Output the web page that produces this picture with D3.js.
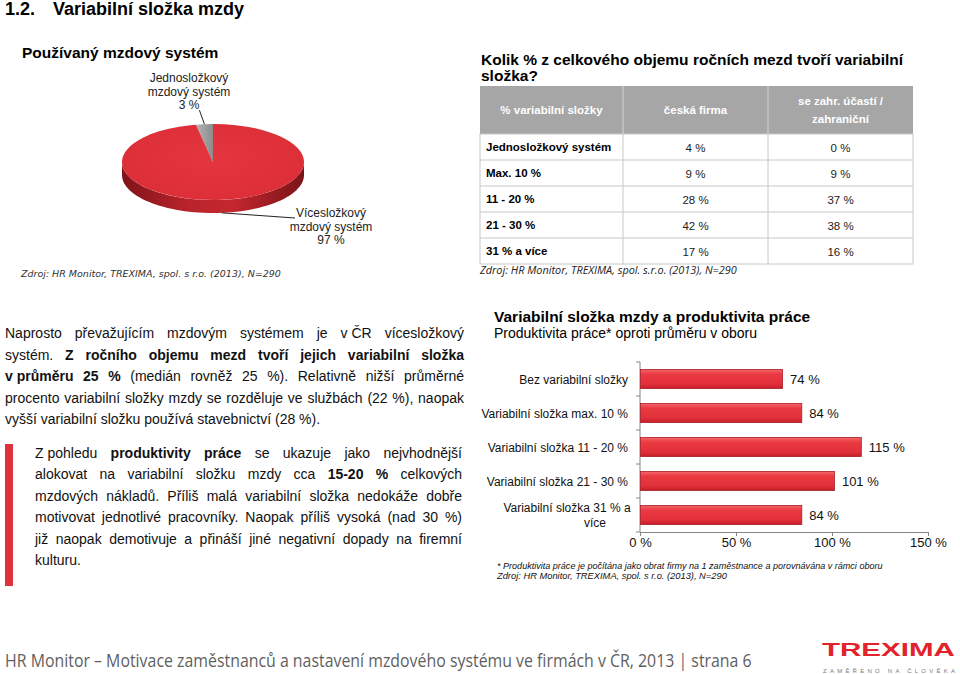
<!DOCTYPE html>
<html><head><meta charset="utf-8">
<script src="https://cdn.jsdelivr.net/npm/d3@7"></script>
<style>
body{margin:0;background:#fff}
svg{display:block}
</style>
</head><body>
<svg id="c" width="960" height="674" font-family="Liberation Sans, Arial, sans-serif"></svg>
<script>
// ---------------- DATA ----------------
const pieLabels = [["Jednosložkový","mzdový systém"],["Vícesložkový","mzdový systém"]];
const pieValues = [3, 97];

const tableHeader = [["% variabilní složky"],["česká firma"],["se zahr. účastí /","zahraniční"]];
const tableRows = ["Jednosložkový systém","Max. 10 %","11 - 20 %","21 - 30 %","31 % a více"];
const czechFirm = [4, 9, 28, 42, 17];
const foreignFirm = [0, 9, 37, 38, 16];

const barCategories = ["Bez variabilní složky","Variabilní složka max. 10 %","Variabilní složka 11 - 20 %","Variabilní složka 21 - 30 %","Variabilní složka 31 % a více"];
const barValues = [74, 84, 115, 101, 84];
const xTicks = [0, 50, 100, 150];

const para1 = [
  "Naprosto převažujícím mzdovým systémem je v\u00a0ČR vícesložkový",
  "systém. **Z ročního objemu mezd tvoří jejich variabilní složka**",
  "**v\u00a0průměru 25 %** (medián rovněž 25 %). Relativně nižší průměrné",
  "procento variabilní složky mzdy se rozděluje ve službách (22 %), naopak",
  "vyšší variabilní složku používá stavebnictví (28 %)."
];
const para2 = [
  "Z\u00a0pohledu **produktivity práce** se ukazuje jako nejvhodnější",
  "alokovat na variabilní složku mzdy cca **15-20 %** celkových",
  "mzdových nákladů. Příliš malá variabilní složka nedokáže dobře",
  "motivovat jednotlivé pracovníky. Naopak příliš vysoká (nad 30 %)",
  "již naopak demotivuje a přináší jiné negativní dopady na firemní",
  "kulturu."
];

// ---------------- SETUP ----------------
const svg = d3.select("#c");
const defs = svg.append("defs");

function lg(id, stops, vertical=true){
  const g = defs.append("linearGradient").attr("id", id)
    .attr("x1",0).attr("y1",0).attr("x2",vertical?0:1).attr("y2",vertical?1:0);
  stops.forEach(s=>g.append("stop").attr("offset",s[0]).attr("stop-color",s[1]));
}
lg("barGrad", [["0%","#f4676b"],["25%","#ea3a41"],["75%","#e2303a"],["100%","#c41f28"]]);
lg("sideGrad", [["0%","#7e1419"],["35%","#b8232b"],["60%","#c6272f"],["100%","#7a1418"]], false);
lg("greyGrad", [["0%","#b4b4b4"],["100%","#8c8c8c"]], false);
const rg = defs.append("radialGradient").attr("id","topGrad").attr("cx","50%").attr("cy","45%").attr("r","60%");
rg.append("stop").attr("offset","0%").attr("stop-color","#e5363f");
rg.append("stop").attr("offset","100%").attr("stop-color","#dc2e37");

// text squeezed to an exact width via a horizontal scale transform
function fitText(parent, x, y, width, str, attrs){
  const t = parent.append("text").text(str);
  Object.entries(attrs).forEach(([k,v])=>t.attr(k,v));
  const L = t.node().getComputedTextLength();
  t.attr("transform", `translate(${x},${y}) scale(${width/L},1)`);
  return t;
}

// Page title
svg.append("text").attr("x",5).attr("y",15).attr("font-size",18).attr("font-weight","bold").text("1.2.");
svg.append("text").attr("x",53).attr("y",15).attr("font-size",18).attr("font-weight","bold").text("Variabilní složka mzdy");

// ---------------- PIE ----------------
svg.append("text").attr("x",22).attr("y",58).attr("font-size",15.5).attr("font-weight","bold").text("Používaný mzdový systém");

const cx = 213, cy = 162, rx = 91, ry = 38, depth = 13;
const pie = d3.pie().sort(null).startAngle(-2*Math.PI*pieValues[0]/100).endAngle(2*Math.PI - 2*Math.PI*pieValues[0]/100);
const arcs = pie(pieValues);
const pt = (a, dy=0) => [cx + rx*Math.sin(a), cy - ry*Math.cos(a) + dy];

const red = arcs[1];
const a0 = Math.max(red.startAngle, Math.PI/2), a1 = Math.min(red.endAngle, 3*Math.PI/2);
const topPts = d3.range(0, 61).map(i => pt(a0 + (a1-a0)*i/60));
const botPts = topPts.slice().reverse().map(p => [p[0], p[1] + depth]);
svg.append("path").attr("d", d3.line()(topPts.concat(botPts)) + "Z").attr("fill","url(#sideGrad)");

const arc = d3.arc().innerRadius(0).outerRadius(rx);
const pg = svg.append("g").attr("transform", `translate(${cx},${cy}) scale(1,${ry/rx})`);
pg.selectAll("path").data(arcs).join("path")
  .attr("d", arc)
  .attr("fill", (d,i) => i===0 ? "url(#greyGrad)" : "url(#topGrad)");

const gMid = (arcs[0].startAngle + arcs[0].endAngle)/2;
const gp = pt(gMid);
svg.append("line").attr("x1",gp[0]-5).attr("y1",gp[1]-14).attr("x2",gp[0]).attr("y2",gp[1]).attr("stroke","#222").attr("stroke-width",1);
const rMid = (red.startAngle + red.endAngle)/2;
const rp = pt(rMid, depth);
svg.append("line").attr("x1",rp[0]).attr("y1",rp[1]).attr("x2",295).attr("y2",218).attr("stroke","#222").attr("stroke-width",1);

function multiLabel(x, y0, lines){
  const t = svg.append("text").attr("text-anchor","middle").attr("font-size",12).attr("fill","#222");
  lines.forEach((l,i)=>t.append("tspan").attr("x",x).attr("y",y0+i*13.5).text(l));
}
multiLabel(189, 82, pieLabels[0].concat([pieValues[0]+" %"]));
multiLabel(331, 217, pieLabels[1].concat([pieValues[1]+" %"]));

fitText(svg, 21, 277, 260, "Zdroj: HR Monitor, TREXIMA, spol. s r.o.  (2013), N=290",
  {"font-size":9, "font-style":"italic", "font-family":"DejaVu Sans", "fill":"#333"});

// ---------------- TABLE ----------------
const tq = svg.append("text").attr("font-size",15.5).attr("font-weight","bold");
tq.append("tspan").attr("x",481).attr("y",65).text("Kolik % z celkového objemu ročních mezd tvoří variabilní");
tq.append("tspan").attr("x",481).attr("y",81).text("složka?");

const colX = [480, 623, 768, 913];
const rowY = d3.scaleBand().domain(tableRows).range([134, 264]);
const headTop = 86, headBot = 134;

svg.append("rect").attr("x",colX[0]).attr("y",headTop).attr("width",colX[3]-colX[0]).attr("height",headBot-headTop).attr("fill","#a6a6a6");
svg.append("rect").attr("x",colX[0]).attr("y",headBot).attr("width",colX[3]-colX[0]).attr("height",rowY.range()[1]-headBot)
  .attr("fill","#fff").attr("stroke","#c8c8c8");
[1,2].forEach(i=>svg.append("line").attr("x1",colX[i]).attr("x2",colX[i]).attr("y1",headTop).attr("y2",headBot).attr("stroke","#d4d4d4"));
[1,2].forEach(i=>svg.append("line").attr("x1",colX[i]).attr("x2",colX[i]).attr("y1",headBot).attr("y2",rowY.range()[1]).attr("stroke","#c8c8c8"));
tableRows.slice(1).forEach(r=>svg.append("line").attr("x1",colX[0]).attr("x2",colX[3]).attr("y1",rowY(r)).attr("y2",rowY(r)).attr("stroke","#c8c8c8"));

tableHeader.forEach((lines,i)=>{
  const mx = (colX[i]+colX[i+1])/2;
  const mid = (headTop+headBot)/2;
  const t = svg.append("text").attr("text-anchor","middle").attr("font-size",11.5).attr("font-weight","bold").attr("fill","#fff");
  lines.forEach((l,j)=>t.append("tspan").attr("x",mx).attr("y", mid + 4 + (j - (lines.length-1)/2)*18).text(l));
});
const tbody = svg.append("g");
tableRows.forEach((r,i)=>{
  const yc = rowY(r) + rowY.bandwidth()/2;
  tbody.append("text").attr("x",486).attr("y",yc+4).attr("font-size",11.5).attr("font-weight","bold").text(r);
  tbody.append("text").attr("x",(colX[1]+colX[2])/2).attr("y",yc+5).attr("text-anchor","middle").attr("font-size",11.5).attr("fill","#222").text(czechFirm[i]+" %");
  tbody.append("text").attr("x",(colX[2]+colX[3])/2).attr("y",yc+5).attr("text-anchor","middle").attr("font-size",11.5).attr("fill","#222").text(foreignFirm[i]+" %");
});
fitText(svg, 480, 274, 257, "Zdroj: HR Monitor, TREXIMA, spol. s.r.o. (2013), N=290",
  {"font-size":11, "font-style":"italic", "font-family":"Open Sans", "fill":"#222"});

// ---------------- PARAGRAPHS ----------------
function parseLine(s){
  const words = [];
  s.split("**").forEach((seg,k)=>{
    seg.split(" ").filter(w=>w.length).forEach(w=>words.push({t:w, b:k%2===1}));
  });
  return words;
}
function paragraph(lines, x0, x1, y0, lh, fs){
  const g = svg.append("g");
  const spaceW = g.append("text").attr("font-size",fs).text("a a").node().getComputedTextLength()
     - 2*g.append("text").attr("font-size",fs).text("a").node().getComputedTextLength();
  g.selectAll("text").remove();
  lines.forEach((line,li)=>{
    const words = parseLine(line);
    const nodes = words.map(w => g.append("text").attr("font-size",fs).attr("font-weight", w.b?"bold":"normal").attr("fill","#111").text(w.t));
    const widths = nodes.map(n => n.node().getComputedTextLength());
    const total = d3.sum(widths);
    const last = li === lines.length-1;
    const gap = last ? spaceW : (x1 - x0 - total)/(words.length-1);
    let x = x0;
    nodes.forEach((n,i)=>{ n.attr("x",x).attr("y",y0+li*lh); x += widths[i] + gap; });
  });
}
paragraph(para1, 5, 464, 338, 21.5, 14);
svg.append("rect").attr("x",5).attr("y",444).attr("width",8).attr("height",142).attr("fill","#e0323b");
paragraph(para2, 35, 462, 458, 21.4, 14);

// ---------------- BAR CHART ----------------
svg.append("text").attr("x",494).attr("y",322).attr("font-size",15.5).attr("font-weight","bold").text("Variabilní složka mzdy a produktivita práce");
svg.append("text").attr("x",494).attr("y",338).attr("font-size",14).text("Produktivita práce* oproti průměru v oboru");

const x = d3.scaleLinear().domain([0,150]).range([640,928]);
const y = d3.scaleBand().domain(barCategories).range([362,532]).paddingInner(0.44).paddingOuter(0.22);
const axisCol = "#868686";

svg.append("line").attr("x1",x(0)).attr("x2",x(0)).attr("y1",y.range()[0]).attr("y2",y.range()[1]).attr("stroke",axisCol);
d3.range(barCategories.length+1).forEach(i=>{
  const yy = y.range()[0] + i*y.step();
  svg.append("line").attr("x1",x(0)-4).attr("x2",x(0)).attr("y1",yy).attr("y2",yy).attr("stroke",axisCol);
});
const xa = svg.append("g").attr("transform",`translate(0,${y.range()[1]})`)
  .call(d3.axisBottom(x).tickValues(xTicks).tickFormat(d=>d+" %").tickSize(4).tickSizeOuter(0).tickPadding(2));
xa.attr("font-family","Liberation Sans, Arial, sans-serif");
xa.select(".domain").attr("stroke",axisCol);
xa.selectAll(".tick line").attr("stroke",axisCol);
xa.selectAll(".tick text").attr("font-size",13).attr("fill","#111");

svg.append("g").selectAll("rect").data(barValues).join("rect")
  .attr("x", x(0)+0.5)
  .attr("y", (d,i)=>y(barCategories[i]))
  .attr("width", d=>x(d)-x(0))
  .attr("height", y.bandwidth())
  .attr("fill","url(#barGrad)")
  .attr("stroke","#a81c24").attr("stroke-width",0.8);
svg.append("g").selectAll("text").data(barValues).join("text")
  .attr("x", d=>x(d)+8)
  .attr("y", (d,i)=>y(barCategories[i]) + y.bandwidth()/2 + 5)
  .attr("font-size",13).attr("fill","#111")
  .text(d=>d+" %");
barCategories.forEach((c,i)=>{
  const yc = y(c) + y.bandwidth()/2;
  if (i === barCategories.length-1){
    const t = svg.append("text").attr("font-size",12).attr("fill","#111").attr("text-anchor","middle");
    t.append("tspan").attr("x",567).attr("y",yc-3).text("Variabilní složka 31 % a");
    t.append("tspan").attr("x",595).attr("y",yc+12).text("více");
  } else {
    svg.append("text").attr("x",628).attr("y",yc+4.5).attr("text-anchor","end").attr("font-size",12).attr("fill","#111").text(c);
  }
});
fitText(svg, 497, 568.5, 386, "* Produktivita práce je počítána jako obrat firmy na 1 zaměstnance a porovnávána v rámci oboru",
  {"font-size":9, "font-style":"italic", "fill":"#111"});
fitText(svg, 497, 578.5, 230, "Zdroj: HR Monitor, TREXIMA, spol. s r.o.  (2013), N=290",
  {"font-size":9, "font-style":"italic", "fill":"#111"});

// ---------------- FOOTER ----------------
fitText(svg, 5, 667, 747, "HR Monitor – Motivace zaměstnanců a nastavení mzdového systému ve firmách v ČR, 2013 | strana 6",
  {"font-size":18, "font-family":"Open Sans", "fill":"#5f5f5f"});
fitText(svg, 822, 656, 133, "TREXIMA", {"font-size":19, "font-weight":"bold", "fill":"#e2232c"});
svg.append("text").attr("x",823).attr("y",673).attr("font-size",6).attr("fill","#7a7a7a")
  .attr("textLength",132).attr("lengthAdjust","spacing").text("ZAMĚŘENO NA ČLOVĚKA");
</script>
</body></html>
